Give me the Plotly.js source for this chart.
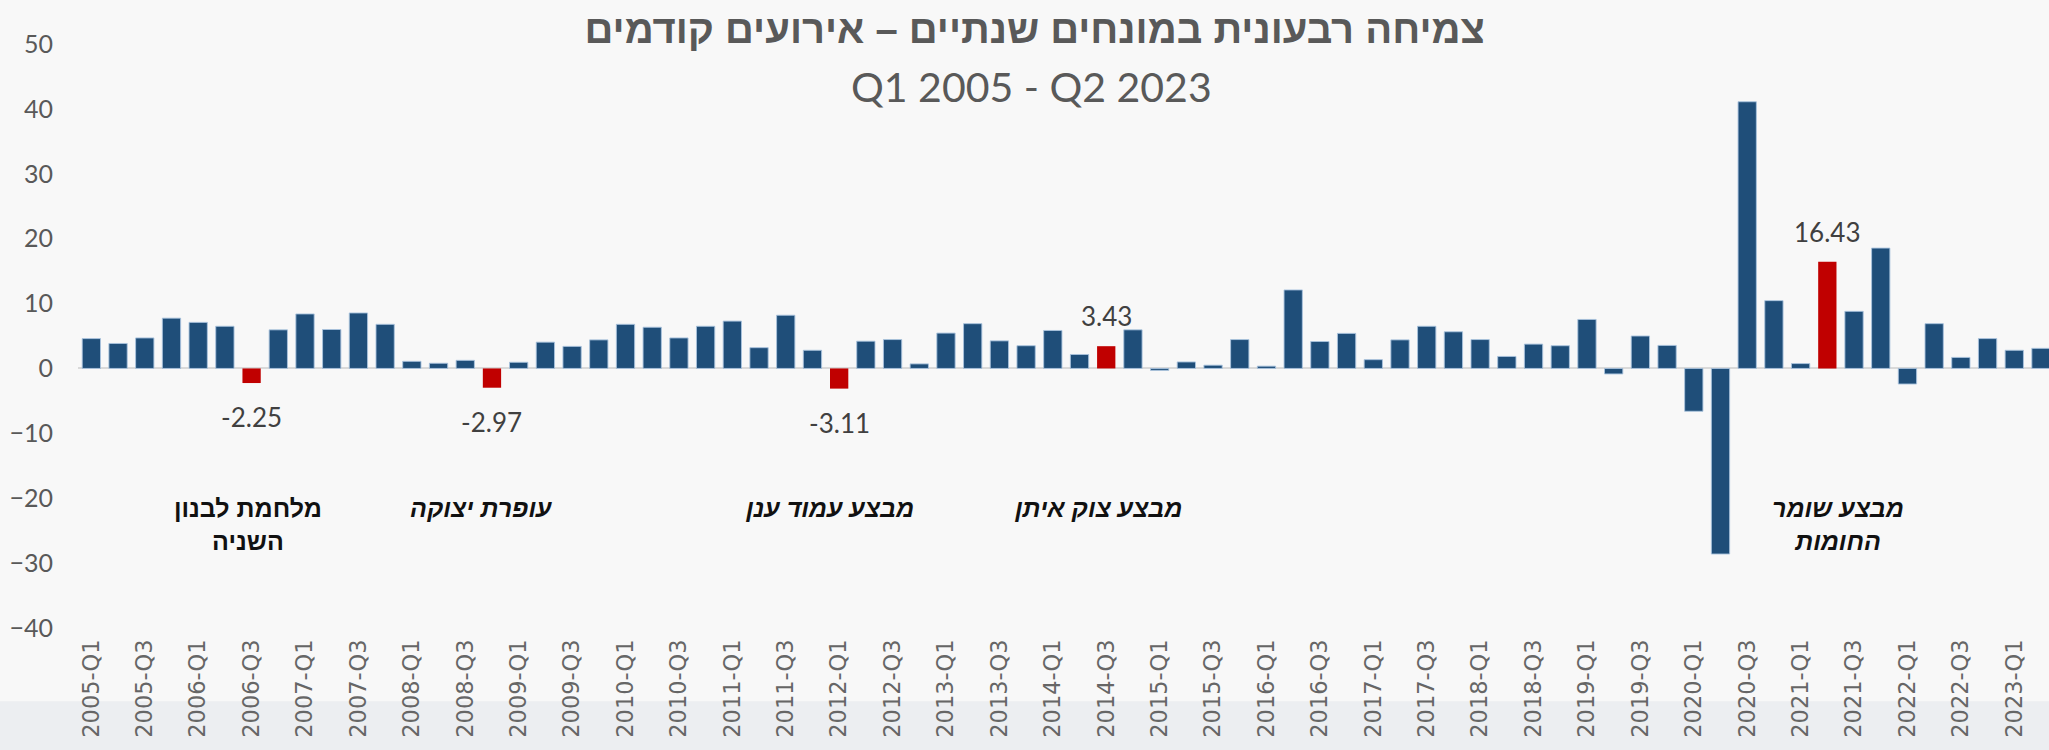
<!DOCTYPE html>
<html>
<head>
<meta charset="utf-8">
<script src="https://cdn.plot.ly/plotly-3.0.1.min.js"></script>
<style>html,body{margin:0;padding:0;background:#f8f8f8;}#chart{width:2049px;height:750px;}</style>
</head>
<body>
<div id="chart"></div>
<script>
// ---- data ----
const categories = [
  '2005-Q1','2005-Q2','2005-Q3','2005-Q4','2006-Q1','2006-Q2','2006-Q3','2006-Q4',
  '2007-Q1','2007-Q2','2007-Q3','2007-Q4','2008-Q1','2008-Q2','2008-Q3','2008-Q4',
  '2009-Q1','2009-Q2','2009-Q3','2009-Q4','2010-Q1','2010-Q2','2010-Q3','2010-Q4',
  '2011-Q1','2011-Q2','2011-Q3','2011-Q4','2012-Q1','2012-Q2','2012-Q3','2012-Q4',
  '2013-Q1','2013-Q2','2013-Q3','2013-Q4','2014-Q1','2014-Q2','2014-Q3','2014-Q4',
  '2015-Q1','2015-Q2','2015-Q3','2015-Q4','2016-Q1','2016-Q2','2016-Q3','2016-Q4',
  '2017-Q1','2017-Q2','2017-Q3','2017-Q4','2018-Q1','2018-Q2','2018-Q3','2018-Q4',
  '2019-Q1','2019-Q2','2019-Q3','2019-Q4','2020-Q1','2020-Q2','2020-Q3','2020-Q4',
  '2021-Q1','2021-Q2','2021-Q3','2021-Q4','2022-Q1','2022-Q2','2022-Q3','2022-Q4',
  '2023-Q1','2023-Q2'
];
const growth = [
  4.6, 3.85, 4.7, 7.75, 7.1, 6.5, -2.25, 5.95,
  8.4, 6.0, 8.55, 6.8, 1.1, 0.8, 1.25, -2.97,
  0.95, 4.05, 3.4, 4.4, 6.8, 6.35, 4.7, 6.5,
  7.3, 3.2, 8.2, 2.8, -3.11, 4.2, 4.45, 0.7,
  5.45, 6.9, 4.25, 3.5, 5.85, 2.15, 3.43, 5.95,
  -0.3, 1.0, 0.5, 4.45, 0.35, 12.1, 4.15, 5.4,
  1.35, 4.4, 6.5, 5.65, 4.45, 1.85, 3.75, 3.5,
  7.55, -0.85, 5.0, 3.55, -6.6, -28.6, 41.1, 10.45,
  0.75, 16.43, 8.8, 18.55, -2.4, 6.9, 1.7, 4.6,
  2.8, 3.1
];
const eventQuarters = ['2006-Q3', '2008-Q4', '2012-Q1', '2014-Q3', '2021-Q2'];
const eventNames = ['מלחמת לבנון<br>השניה', 'עופרת יצוקה', 'מבצע עמוד ענן', 'מבצע צוק איתן', 'מבצע שומר<br>החומות'];
const eventItalic = [false, true, true, true, true];
const eventShift = [-4, -11, -10, -8, 11];
const tickLabels = categories.filter((c, i) => i % 2 === 0);
const titleText = 'צמיחה רבעונית במונחים שנתיים – אירועים קודמים';
const subtitleText = 'Q1 2005 - Q2 2023';

// ---- styling ----
const BLUE = '#1F4E79', RED = '#C00000';
const isEvent = categories.map(c => eventQuarters.includes(c));
const colors = isEvent.map(e => e ? RED : BLUE);
const lineColors = isEvent.map(e => e ? 'rgba(0,0,0,0)' : 'rgba(170,195,222,0.9)');

const trace = {
  type: 'bar',
  x: categories,
  y: growth,
  marker: {color: colors, line: {color: lineColors, width: 1}},
  hoverinfo: 'x+y'
};

const annotations = [];
eventQuarters.forEach((q, k) => {
  const v = growth[categories.indexOf(q)];
  annotations.push({
    x: q, y: v, xref: 'x', yref: 'y', showarrow: false,
    text: v.toFixed(2),
    yanchor: v >= 0 ? 'bottom' : 'top',
    yshift: v >= 0 ? 12 : -16,
    font: {family: 'Lato, sans-serif', size: 26, color: '#404040'}
  });
  annotations.push({
    x: q, y: -19, xref: 'x', yref: 'y', showarrow: false,
    text: eventNames[k], xshift: eventShift[k], yanchor: 'top', align: 'center',
    font: {family: 'Liberation Sans, Arial, sans-serif', size: 25, color: '#111111',
           weight: 'bold', style: eventItalic[k] ? 'italic' : 'normal'}
  });
});
annotations.push({
  text: subtitleText, xref: 'paper', yref: 'paper', x: 0.484, y: 0.927,
  xanchor: 'center', yanchor: 'middle', showarrow: false,
  font: {family: 'Lato, sans-serif', size: 41, color: '#595959'}
});

const layout = {
  width: 2049, height: 750,
  margin: {l: 78, r: 0, t: 43.5, b: 121.5, pad: 0},
  paper_bgcolor: '#f8f8f8',
  plot_bgcolor: 'rgba(0,0,0,0)',
  showlegend: false,
  bargap: 0.315,
  title: {
    text: '<b>' + titleText + '</b>',
    xref: 'container', yref: 'container', x: 0.505, y: 0.961,
    xanchor: 'center', yanchor: 'middle',
    font: {family: 'Liberation Sans, Arial, sans-serif', size: 40, color: '#595959'}
  },
  xaxis: {
    type: 'category',
    range: [-0.5, 73.3],
    tickvals: tickLabels, ticktext: tickLabels,
    tickangle: -90,
    tickfont: {family: 'DejaVu Sans, sans-serif', size: 22.5, color: '#666666'},
    ticklabelstandoff: 6,
    showgrid: false, showline: false, zeroline: false, ticks: '',
    automargin: false
  },
  yaxis: {
    range: [-40, 50], tick0: 0, dtick: 10,
    tickfont: {family: 'Lato, sans-serif', size: 25, color: '#595959'},
    ticklabelstandoff: 24,
    showgrid: false, showline: false, ticks: '',
    zeroline: true, zerolinecolor: '#d9d9d9', zerolinewidth: 2,
    automargin: false
  },
  shapes: [{
    type: 'rect', xref: 'paper', yref: 'paper', x0: -0.1, x1: 1.1, y0: -0.3, y1: -0.1256,
    fillcolor: '#eceef1', line: {width: 0}, layer: 'below'
  }],
  annotations: annotations
};

Plotly.newPlot('chart', [trace], layout, {displayModeBar: false, responsive: false});
</script>
</body>
</html>
